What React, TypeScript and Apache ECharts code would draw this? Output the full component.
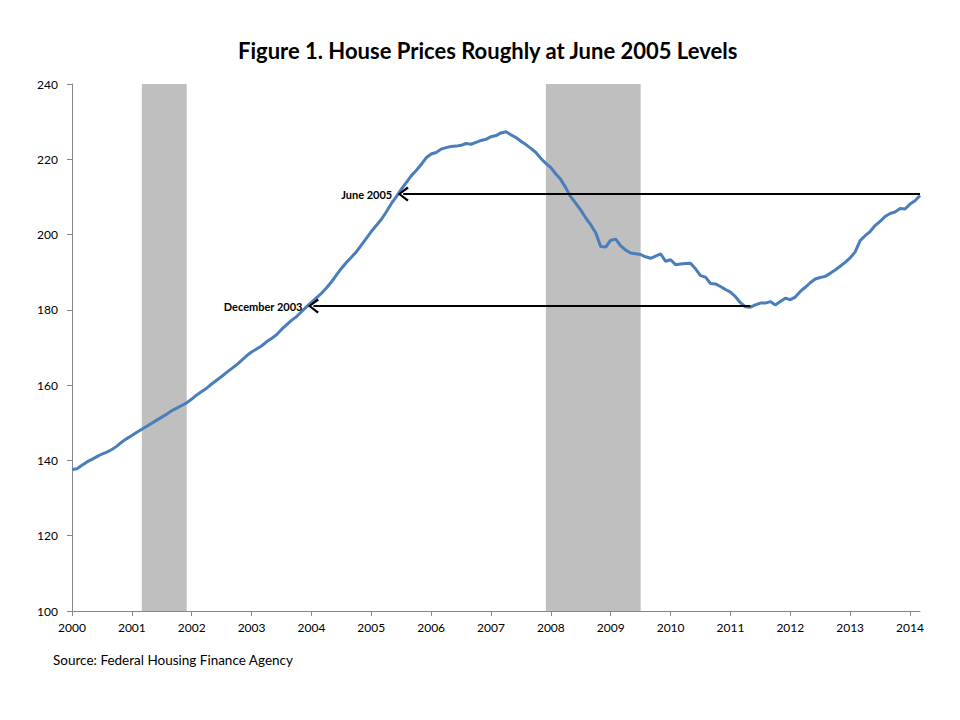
import React, { useEffect, useRef } from "react";
import * as echarts from "echarts";

// Monthly index, Jan 2000 (month 0) to Mar 2014 (month 170)
const prices2000 = [137.6, 137.8, 138.7, 139.6, 140.3, 141.0, 141.7, 142.2, 142.9, 143.8, 144.9, 145.8];
const prices2001 = [146.6, 147.5, 148.3, 149.1, 149.9, 150.7, 151.5, 152.3, 153.2, 153.9, 154.6, 155.3];
const prices2002 = [156.3, 157.4, 158.3, 159.2, 160.3, 161.3, 162.3, 163.4, 164.4, 165.4, 166.6, 167.8];
const prices2003 = [168.8, 169.6, 170.4, 171.5, 172.4, 173.4, 174.8, 176.0, 177.2, 178.2, 179.5, 180.8];
const prices2004 = [182.0, 183.2, 184.4, 185.8, 187.4, 189.2, 191.0, 192.6, 194.0, 195.4, 197.2, 199.0];
const prices2005 = [200.8, 202.4, 204.0, 206.0, 208.2, 210.0, 212.0, 213.8, 215.6, 217.0, 218.6, 220.4];
const prices2006 = [221.4, 221.8, 222.7, 223.1, 223.4, 223.5, 223.7, 224.2, 224.0, 224.5, 225.0, 225.3];
const prices2007 = [226.0, 226.3, 227.0, 227.3, 226.5, 225.8, 224.8, 223.9, 222.9, 221.8, 220.2, 218.9];
const prices2008 = [217.8, 216.1, 214.6, 212.4, 210.0, 208.3, 206.5, 204.4, 202.6, 200.4, 196.8, 196.7];
const prices2009 = [198.5, 198.8, 197.0, 195.9, 195.1, 194.9, 194.7, 194.1, 193.7, 194.3, 194.9, 192.9];
const prices2010 = [193.3, 192.0, 192.2, 192.3, 192.4, 190.9, 189.1, 188.7, 187.0, 186.9, 186.2, 185.4];
const prices2011 = [184.7, 183.5, 181.9, 180.8, 180.7, 181.3, 181.8, 181.8, 182.2, 181.3, 182.2, 183.1];
const prices2012 = [182.7, 183.4, 184.9, 186.0, 187.2, 188.2, 188.6, 188.9, 189.7, 190.6, 191.6, 192.6];
const prices2013 = [193.8, 195.4, 198.4, 199.7, 200.8, 202.4, 203.5, 204.8, 205.6, 206.0, 206.9, 206.8];
const prices2014 = [208.1, 209.0, 210.4];

const allPrices = [
  ...prices2000, ...prices2001, ...prices2002, ...prices2003, ...prices2004,
  ...prices2005, ...prices2006, ...prices2007, ...prices2008, ...prices2009,
  ...prices2010, ...prices2011, ...prices2012, ...prices2013, ...prices2014,
];

const startYear = 2000;
const yTicks = [100, 120, 140, 160, 180, 200, 220, 240];

// Recessions, in months since Jan 2000
const recessions = [
  [14, 23],
  [95, 114],
];

// Annotation arrows: [label, tip month, value, tail month]
const arrows: [string, number, number, number][] = [
  ["June 2005", 66.4, 210.75, 170],
  ["December 2003", 48.4, 181.0, 136],
];

const chevron = "path://M5,0 L10,8 L8.7,9.3 L5,2.7 L1.3,9.3 L0,8 Z";

export default function App() {
  const ref = useRef<HTMLDivElement>(null);
  useEffect(() => {
    if (!ref.current) return;
    const chart = echarts.init(ref.current, null, { renderer: "svg" });
    const font = "Lato, 'Liberation Sans', sans-serif";
    const data = allPrices.map((v, i) => [i, v]);
    chart.setOption({
      animation: false,
      backgroundColor: "#ffffff",
      textStyle: { fontFamily: font },
      title: {
        text: "Figure 1. House Prices Roughly at June 2005 Levels",
        left: 238,
        top: 39,
        padding: 0,
        textStyle: { fontFamily: font, fontSize: 22, fontWeight: "bold", color: "#000" },
      },
      graphic: [
        {
          type: "text",
          left: 53,
          top: 653,
          style: {
            text: "Source: Federal Housing Finance Agency",
            fontFamily: font,
            fontSize: 13.5,
            fill: "#000",
          },
        },
      ],
      grid: { left: 72, right: 40, top: 84, bottom: 109, containLabel: false },
      xAxis: {
        type: "value",
        min: 0,
        max: allPrices.length - 1,
        interval: 12,
        splitLine: { show: false },
        axisLine: { show: true, lineStyle: { color: "#868686", width: 1 } },
        axisTick: { show: true, inside: false, length: 5, lineStyle: { color: "#868686" } },
        axisLabel: {
          showMaxLabel: false,
          margin: 10,
          fontSize: 12,
          color: "#000",
          fontFamily: font,
          formatter: (v: number) => (v % 12 === 0 ? String(startYear + v / 12) : ""),
        },
      },
      yAxis: {
        type: "value",
        min: yTicks[0],
        max: yTicks[yTicks.length - 1],
        interval: 20,
        splitLine: { show: false },
        axisLine: { show: true, lineStyle: { color: "#868686", width: 1 } },
        axisTick: { show: true, inside: false, length: 5, lineStyle: { color: "#868686" } },
        axisLabel: { margin: 14, fontSize: 12, color: "#000", fontFamily: font },
      },
      series: [
        {
          type: "line",
          data,
          showSymbol: false,
          symbol: "none",
          smooth: false,
          lineStyle: { color: "#4A7EBB", width: 3 },
          z: 3,
          markArea: {
            silent: true,
            itemStyle: { color: "#BFBFBF", opacity: 1 },
            data: recessions.map(([a, b]) => [{ xAxis: a }, { xAxis: b }]),
          },
        },
        {
          type: "line",
          data: [],
          z: 4,
          markLine: {
            silent: true,
            symbol: [chevron, "none"],
            symbolSize: [15, 11],
            lineStyle: { color: "#000", width: 2, type: "solid" },
            label: {
              show: true,
              position: "start",
              distance: 11,
              fontSize: 11,
              fontWeight: "bold",
              color: "#000",
              fontFamily: font,
              formatter: (p: any) => p.name,
            },
            data: arrows.map(([name, tip, val, tail]) => [
              { name, coord: [tip, val] },
              { coord: [tail, val] },
            ]),
          },
        },
      ],
    });
    return () => chart.dispose();
  }, []);
  return (
    <div
      ref={ref}
      style={{ position: "fixed", left: 0, top: 0, width: 960, height: 720, background: "#fff" }}
    />
  );
}
